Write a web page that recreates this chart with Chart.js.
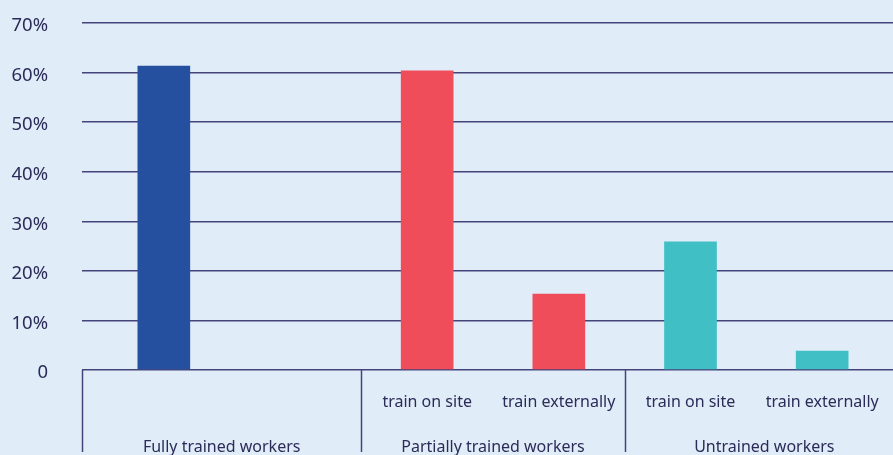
<!DOCTYPE html>
<html>
<head>
<meta charset="utf-8">
<script src="https://cdn.jsdelivr.net/npm/chart.js@4.4.1/dist/chart.umd.min.js"></script>
<style>
  html, body { margin: 0; padding: 0; background: #e0ecf8; }
  #wrap { width: 893px; height: 455px; position: relative; }
</style>
</head>
<body>
<div id="wrap"><canvas id="chart"></canvas></div>
<script>
// training groups and the sub-categories under each
const groups     = ['Fully trained workers', 'Partially trained workers', 'Untrained workers'];
const groupOf    = [0, 0, 1, 1, 2, 2];
const subLabels  = ['', '', 'train on site', 'train externally', 'train on site', 'train externally'];
const shares     = [61.4, null, 60.4, 15.4, 25.9, 3.9];
const barColors  = ['#2550a0', '#2550a0', '#f04d5a', '#f04d5a', '#40c0c5', '#40c0c5'];
const yTicks     = [0, 10, 20, 30, 40, 50, 60, 70];

const TEXT  = '#2b2b58';
const GRID  = '#44447a';
const FONT  = "'Noto Sans', 'Open Sans', sans-serif";
const EDGE  = 16;   // how far gridlines / group frames reach past the bars

// fixed axis sizes, no automatic label overflow padding
function fixSize(w, h) {
  return function (s) {
    if (w != null) s.width = w;
    if (h != null) s.height = h;
    s.paddingTop = s.paddingBottom = s.paddingLeft = s.paddingRight = 0;
  };
}

// group captions under the axis plus the vertical separators
const groupFrames = {
  id: 'groupFrames',
  afterDraw(chart) {
    const x = chart.scales.x;
    const ctx = chart.ctx;
    const half = (x.getPixelForValue(1) - x.getPixelForValue(0)) / 2;
    ctx.save();
    groups.forEach(function (name, g) {
      const idx = groupOf.map(function (v, i) { return v === g ? i : -1; }).filter(function (i) { return i >= 0; });
      let left = x.getPixelForValue(idx[0]) - half;
      let right = x.getPixelForValue(idx[idx.length - 1]) + half;
      if (g === 0) left -= EDGE;
      if (g === groups.length - 1) right += EDGE;

      ctx.strokeStyle = GRID;
      ctx.lineWidth = 1.5;
      ctx.beginPath();
      ctx.moveTo(Math.round(left) + 0.5, x.top);
      ctx.lineTo(Math.round(left) + 0.5, x.top + 82);
      ctx.stroke();

      ctx.fillStyle = TEXT;
      ctx.font = '16px ' + FONT;
      ctx.textAlign = 'center';
      ctx.textBaseline = 'middle';
      ctx.fillText(name, (left + right) / 2, x.top + 77);
    });
    ctx.restore();
  },
};

new Chart(document.getElementById('chart').getContext('2d'), {
  type: 'bar',
  data: {
    labels: subLabels.map(function (s, i) { return groups[groupOf[i]] + (s ? ' - ' + s : ''); }),
    datasets: [{
      data:               shares,
      backgroundColor:    barColors,
      borderWidth:        0,
      barPercentage:      0.4,
      categoryPercentage: 1,
    }],
  },
  options: {
    responsive:          true,
    maintainAspectRatio: false,
    animation:           false,
    layout: { padding: { top: 23, left: 0, right: 0, bottom: 0 } },
    plugins: {
      legend:  { display: false },
      tooltip: { enabled: false },
    },
    scales: {
      x: {
        grid:   { display: false, drawTicks: false },
        border: { display: false },
        ticks: {
          padding:     23,
          color:       TEXT,
          font:        { family: FONT, size: 16 },
          maxRotation: 0,
          autoSkip:    false,
          callback: function (v, i) { return subLabels[i]; },
        },
        afterFit: fixSize(null, 85),
      },
      y: {
        min: 0,
        max: 70,
        afterBuildTicks: function (s) { s.ticks = yTicks.map(function (v) { return { value: v }; }); },
        grid:   { color: GRID, lineWidth: 1.5, tickLength: EDGE },
        border: { display: false },
        ticks: {
          padding:     34,
          labelOffset: 3,
          color:       TEXT,
          font:        { family: FONT, size: 18.5 },
          callback: function (v) { return v === 0 ? '0' : v + '%'; },
        },
        afterFit: fixSize(98, null),
      },
      yRight: {
        position: 'right',
        min: 0,
        max: 70,
        afterBuildTicks: function (s) { s.ticks = yTicks.map(function (v) { return { value: v }; }); },
        grid:   { color: GRID, lineWidth: 1.5, tickLength: EDGE, drawOnChartArea: false },
        border: { display: false },
        ticks:  { display: false },
        afterFit: fixSize(5, null),
      },
    },
  },
  plugins: [groupFrames],
});
</script>
</body>
</html>
